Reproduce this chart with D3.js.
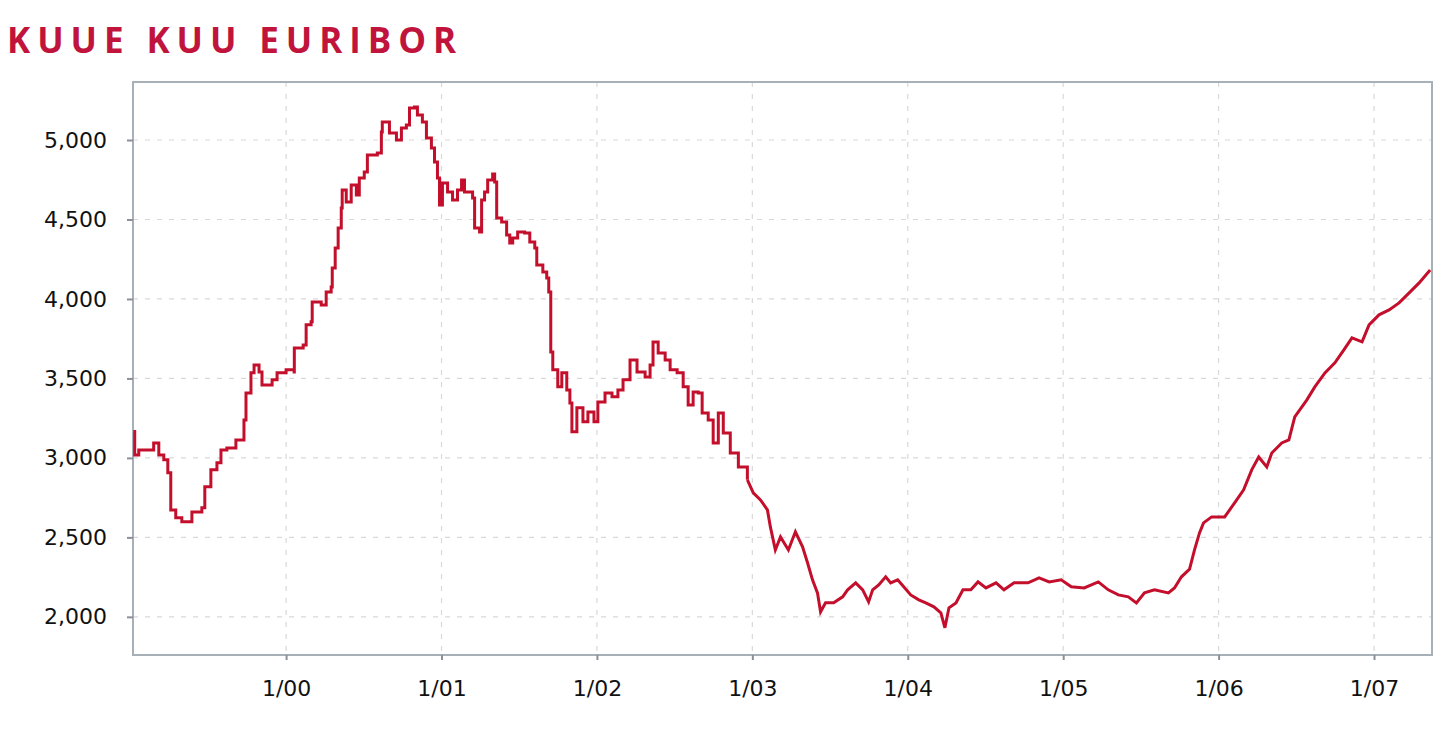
<!DOCTYPE html>
<html>
<head>
<meta charset="utf-8">
<script src="https://cdn.jsdelivr.net/npm/d3@7"></script>
<style>
  html, body { margin: 0; padding: 0; background: #fff; }
  svg { display: block; }
</style>
</head>
<body>
<svg id="chart" width="1442" height="749"></svg>
<script>
// ---- Data (decimal year, 6-month Euribor x1000) ----
const title = "KUUE KUU EURIBOR";
const xTickYears = [2000, 2001, 2002, 2003, 2004, 2005, 2006, 2007];
const yTickValues = [2000, 2500, 3000, 3500, 4000, 4500, 5000];

const years = [
  1999.017, 1999.026, 1999.052, 1999.148, 1999.181, 1999.213, 1999.239, 1999.258, 1999.290, 1999.329,
  1999.387, 1999.394, 1999.458, 1999.477, 1999.516, 1999.555, 1999.581, 1999.619, 1999.677, 1999.716,
  1999.729, 1999.742, 1999.774, 1999.794, 1999.826, 1999.845, 1999.910, 1999.942, 2000.000, 2000.052,
  2000.053, 2000.110, 2000.129, 2000.161, 2000.168, 2000.226, 2000.258, 2000.290, 2000.297, 2000.316,
  2000.335, 2000.355, 2000.361, 2000.387, 2000.419, 2000.452, 2000.471, 2000.503, 2000.523, 2000.587,
  2000.613, 2000.619, 2000.652, 2000.665, 2000.710, 2000.742, 2000.774, 2000.794, 2000.826, 2000.845,
  2000.877, 2000.903, 2000.935, 2000.955, 2000.974, 2000.987, 2001.006, 2001.039, 2001.071, 2001.103,
  2001.129, 2001.148, 2001.181, 2001.200, 2001.213, 2001.245, 2001.258, 2001.277, 2001.297, 2001.329,
  2001.342, 2001.355, 2001.387, 2001.419, 2001.439, 2001.458, 2001.490, 2001.535, 2001.568, 2001.600,
  2001.613, 2001.652, 2001.677, 2001.690, 2001.703, 2001.716, 2001.748, 2001.774, 2001.806, 2001.826,
  2001.839, 2001.871, 2001.910, 2001.942, 2001.981, 2002.006, 2002.052, 2002.097, 2002.135, 2002.168,
  2002.213, 2002.258, 2002.310, 2002.342, 2002.361, 2002.394, 2002.439, 2002.471, 2002.516, 2002.555,
  2002.587, 2002.619, 2002.652, 2002.677, 2002.716, 2002.748, 2002.781, 2002.813, 2002.858, 2002.910,
  2002.968, 2003.006, 2003.052, 2003.097, 2003.116, 2003.148, 2003.181, 2003.232, 2003.277, 2003.323,
  2003.355, 2003.387, 2003.419, 2003.439, 2003.471, 2003.523, 2003.581, 2003.613, 2003.665, 2003.710,
  2003.748, 2003.774, 2003.813, 2003.858, 2003.890, 2003.935, 2003.974, 2004.019, 2004.071, 2004.116,
  2004.168, 2004.213, 2004.239, 2004.265, 2004.310, 2004.355, 2004.406, 2004.452, 2004.503, 2004.568,
  2004.619, 2004.684, 2004.774, 2004.845, 2004.910, 2004.987, 2005.052, 2005.135, 2005.226, 2005.290,
  2005.355, 2005.419, 2005.471, 2005.523, 2005.587, 2005.677, 2005.716, 2005.761, 2005.813, 2005.845,
  2005.877, 2005.903, 2005.955, 2006.039, 2006.103, 2006.161, 2006.213, 2006.258, 2006.310, 2006.342,
  2006.406, 2006.452, 2006.490, 2006.568, 2006.619, 2006.684, 2006.748, 2006.806, 2006.858, 2006.923,
  2006.968, 2007.032, 2007.097, 2007.161, 2007.226, 2007.290, 2007.361
];

const values = [
  3166, 3019, 3050, 3094, 3019, 2988, 2906, 2673, 2623, 2598,
  2598, 2660, 2686, 2818, 2925, 2969, 3050, 3063, 3113, 3113,
  3239, 3409, 3535, 3585, 3541, 3459, 3491, 3535, 3554, 3541,
  3692, 3711, 3837, 3856, 3981, 3962, 4044, 4076, 4195, 4321,
  4447, 4572, 4686, 4610, 4717, 4654, 4761, 4799, 4906, 4918,
  5050, 5113, 5113, 5044, 5000, 5075, 5094, 5201, 5207, 5157,
  5113, 5013, 4950, 4862, 4761, 4591, 4730, 4673, 4623, 4686,
  4748, 4673, 4673, 4635, 4447, 4421, 4623, 4673, 4748, 4786,
  4736, 4509, 4484, 4403, 4352, 4384, 4421, 4415, 4358, 4321,
  4214, 4170, 4132, 4044, 3667, 3554, 3447, 3535, 3428, 3346,
  3164, 3315, 3227, 3289, 3227, 3352, 3409, 3384, 3428, 3491,
  3616, 3541, 3509, 3585, 3730, 3660, 3616, 3554, 3535, 3447,
  3333, 3415, 3409, 3283, 3239, 3094, 3283, 3157, 3031, 2943,
  2862, 2780, 2736, 2673, 2566, 2421, 2503, 2421, 2535, 2440,
  2340, 2233, 2151, 2031, 2088, 2088, 2126, 2170, 2214, 2170,
  2094, 2170, 2201, 2252, 2214, 2233, 2189, 2138, 2107, 2088,
  2063, 2025, 1931, 2057, 2088, 2170, 2170, 2220, 2182, 2214,
  2170, 2214, 2214, 2245, 2220, 2233, 2189, 2182, 2220, 2170,
  2138, 2126, 2088, 2151, 2170, 2151, 2182, 2252, 2300, 2421,
  2528, 2591, 2629, 2629, 2717, 2799, 2925, 3006, 2943, 3031,
  3094, 3113, 3258, 3365, 3447, 3535, 3598, 3679, 3755, 3730,
  3837, 3900, 3931, 3975, 4038, 4101, 4182
];

// the period up to here shows clear weekly steps in the picture
const stepUntil = 2003.0;

const series = years.map((t, i) => ({ t, v: values[i] }));
const stepPart = series.filter(d => d.t <= stepUntil);
const linePart = series.filter(d => d.t >= stepPart[stepPart.length - 1].t);

// ---- Layout ----
const svg = d3.select("#chart");
const plot = { left: 133, right: 1432, top: 82, bottom: 655 };

const x = d3.scaleLinear().domain([1999.015, 2007.373]).range([plot.left, plot.right]);
const y = d3.scaleLinear().domain([1760, 5365]).range([plot.bottom, plot.top]);

// Title
svg.append("text")
  .attr("x", 7).attr("y", 53)
  .attr("textLength", 449).attr("lengthAdjust", "spacing")
  .style("font-family", "'Open Sans', 'DejaVu Sans', sans-serif")
  .style("font-weight", 700)
  .style("font-size", "35px")
  .style("fill", "#c0143c")
  .text(title);

// Grid
const grid = svg.append("g").attr("class", "grid");
grid.selectAll("line.h").data(yTickValues).join("line")
  .attr("class", "h")
  .attr("x1", plot.left).attr("x2", plot.right)
  .attr("y1", d => y(d)).attr("y2", d => y(d))
  .attr("stroke", "#d9d9d9").attr("stroke-width", 1.2)
  .attr("stroke-dasharray", "5,7");
grid.selectAll("line.v").data(xTickYears).join("line")
  .attr("class", "v")
  .attr("x1", d => x(d)).attr("x2", d => x(d))
  .attr("y1", plot.top).attr("y2", plot.bottom)
  .attr("stroke", "#d9d9d9").attr("stroke-width", 1.2)
  .attr("stroke-dasharray", "5,7");

// Frame
svg.append("rect")
  .attr("x", plot.left).attr("y", plot.top)
  .attr("width", plot.right - plot.left).attr("height", plot.bottom - plot.top)
  .attr("fill", "none").attr("stroke", "#a7afb7").attr("stroke-width", 2);

// Axes
const fontAxis = "'DejaVu Sans', Verdana, sans-serif";
const yAxis = svg.append("g")
  .attr("transform", `translate(${plot.left},0)`)
  .call(d3.axisLeft(y).tickValues(yTickValues).tickFormat(d3.format(",")).tickSize(6).tickPadding(20));
yAxis.select(".domain").remove();
yAxis.selectAll(".tick line").attr("stroke", "#8a9098").attr("stroke-width", 2);
yAxis.selectAll(".tick text")
  .style("font-family", fontAxis).style("font-size", "22px").style("fill", "#111");

const xAxis = svg.append("g")
  .attr("transform", `translate(0,${plot.bottom})`)
  .call(d3.axisBottom(x).tickValues(xTickYears)
    .tickFormat(d => "1/" + String(d % 100).padStart(2, "0"))
    .tickSize(5).tickPadding(20));
xAxis.select(".domain").remove();
xAxis.selectAll(".tick line").attr("stroke", "#8a9098").attr("stroke-width", 2);
xAxis.selectAll(".tick text")
  .style("font-family", fontAxis).style("font-size", "22px").style("fill", "#111");

// Line
const stepLine = d3.line().x(d => x(d.t)).y(d => y(d.v)).curve(d3.curveStepAfter);
const plainLine = d3.line().x(d => x(d.t)).y(d => y(d.v)).curve(d3.curveLinear);
const lineStyle = sel => sel
  .attr("fill", "none")
  .attr("stroke", "#c30f2c")
  .attr("stroke-width", 3)
  .attr("stroke-linejoin", "miter");
svg.append("path").datum(stepPart).attr("d", stepLine).call(lineStyle);
svg.append("path").datum(linePart).attr("d", plainLine).call(lineStyle);
</script>
</body>
</html>
